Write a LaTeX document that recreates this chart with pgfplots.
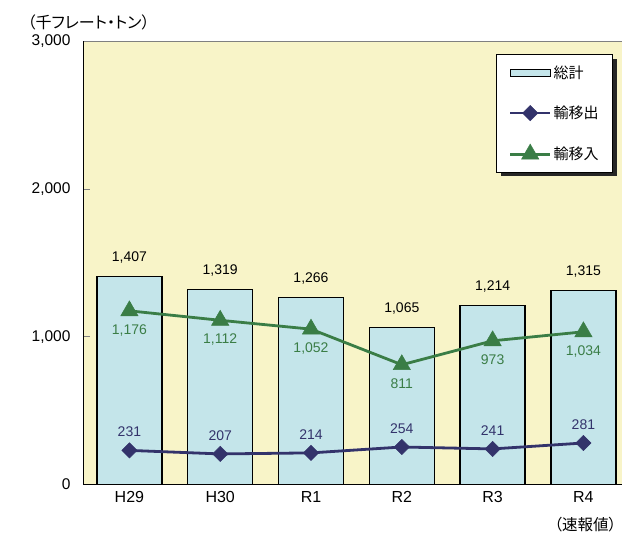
\documentclass[border=0pt]{standalone}
\usepackage{fontspec}
\setmainfont{Liberation Sans}
\newfontfamily\jp{Noto Sans CJK JP}
\newfontfamily\jpp[RawFeature=+palt]{Noto Sans CJK JP}
\usepackage{pgfplots}
\pgfplotsset{compat=1.18}
\usetikzlibrary{shadows}
\definecolor{bg}{RGB}{248,244,200}
\definecolor{barfill}{RGB}{196,229,234}
\definecolor{navy}{RGB}{51,51,107}
\definecolor{grn}{RGB}{58,125,70}
% the legend box has a drop shadow; keep it off the legend images
\makeatletter
\tikzset{no preaction/.code={\let\tikz@preactions\pgfutil@empty}}
\makeatother
\pgfplotsset{lineleg/.style={legend image code/.code={\draw[no preaction,mark repeat=2,mark phase=2,##1] plot coordinates {(0pt,0pt) (20pt,0pt) (40pt,0pt)};}}}

\begin{document}
\begin{tikzpicture}
\begin{axis}[
  name=ax, at={(0,0)}, anchor=south west,
  width=538pt, height=443pt, scale only axis,
  xmin=-0.5, xmax=5.425, ymin=0, ymax=3000,
  xtick={0,...,5}, xticklabels={H29,H30,R1,R2,R3,R4},
  ytick={0,1000,2000,3000},
  axis x line*=bottom, axis y line*=left,
  x axis line style={-, line width=1.6pt},
  y axis line style={-, line width=1pt},
  axis background/.style={fill=bg},
  major x tick style={draw=none},
  major y tick style={gray, line width=0.8pt},
  major tick length=6pt, tick align=inside,
  /pgf/number format/fixed,
  /pgf/number format/precision=0,
  /pgf/number format/1000 sep={,},
  /pgf/number format/assume math mode=true,
  yticklabel style={font=\fontsize{15.5}{17}\selectfont, xshift=-10pt},
  xticklabel style={font=\fontsize{16}{18}\selectfont, yshift=-3pt},
  legend style={at={(1,1)}, anchor=north east, xshift=-9pt, yshift=-13pt,
    draw=black, line width=0.8pt, fill=white,
    font=\jp\fontsize{15}{17}\selectfont,
    row sep=22pt, inner xsep=12pt, inner ysep=9pt,
    cells={anchor=west},
    drop shadow={shadow xshift=4pt, shadow yshift=-4pt, fill=black!85, opacity=1}},
]
% 総計
\addplot[ybar, bar width=0.716, fill=barfill, draw=black, line width=1.3pt,
  nodes near coords,
  nodes near coords style={font=\fontsize{14}{16}\selectfont, black, yshift=9pt},
  legend image code/.code={\draw[no preaction, fill=barfill, draw=black, line width=1pt] (0pt,-3.5pt) rectangle (40pt,3.5pt);}]
  coordinates {(0,1407) (1,1319) (2,1266) (3,1065) (4,1214) (5,1315)};
\addlegendentry{総計}
% 輸移出
\addplot[navy, line width=2.8pt, mark=square*, mark size=5.4pt,
  mark options={rotate=45, fill=navy, line width=0.5pt},
  nodes near coords,
  nodes near coords style={font=\fontsize{14}{16}\selectfont, text=navy, yshift=10pt},
  lineleg]
  coordinates {(0,231) (1,207) (2,214) (3,254) (4,241) (5,281)};
\addlegendentry{輸移出}
% 輸移入
\addplot[grn, line width=2.8pt, mark=triangle*, mark size=10pt,
  mark options={fill=grn, line width=0.5pt},
  nodes near coords, nodes near coords align={below},
  nodes near coords style={font=\fontsize{14}{16}\selectfont, text=grn, yshift=-10pt},
  lineleg]
  coordinates {(0,1176) (1,1112) (2,1052) (3,811) (4,973) (5,1034)};
\addlegendentry{輸移入}
\draw[gray, line width=0.6pt] (rel axis cs:0,1) -- (rel axis cs:1,1);
\coordinate (r4) at (axis cs:5,0);
\end{axis}
\node[font=\jpp\fontsize{15.5}{17}\selectfont] at ([xshift=2pt, yshift=-40.5pt]r4) {（速報値）};
\node[anchor=west, font=\jpp\fontsize{16}{18}\selectfont] at ([xshift=-60pt, yshift=19.5pt]ax.north west) {（千フレート・トン）};
\pgfresetboundingbox
\path ([xshift=-84pt, yshift=-50.5pt]ax.south west) rectangle ([xshift=1pt, yshift=41.5pt]ax.north east);
\end{tikzpicture}
\end{document}
